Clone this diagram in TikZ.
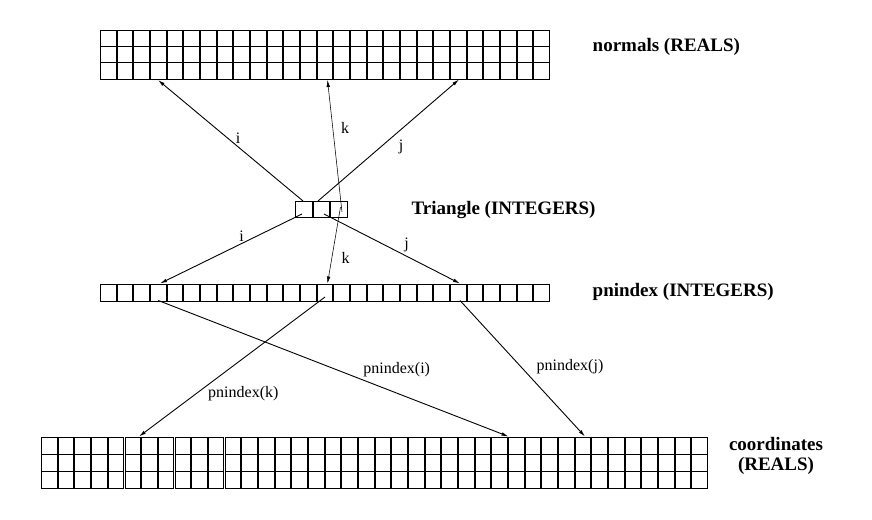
\documentclass[tikz,border=0pt]{standalone}
\usepackage{fontspec}
\setmainfont{Liberation Serif}
\usetikzlibrary{arrows.meta}
\begin{document}
\begin{tikzpicture}[x=1pt,y=-1pt,
  cell/.style={draw, line width=0.8pt, inner sep=0pt, outer sep=0pt, minimum width=15.6pt},
  arr/.style={-{Latex[length=7pt,width=3.6pt]}, line width=0.9pt},
  thinarr/.style={arr, line width=0.55pt},
  lbl/.style={font=\fontsize{16}{16}\selectfont, inner sep=0pt},
  ttl/.style={font=\fontsize{19}{19.5}\selectfont\bfseries, inner sep=0pt, align=center}]
\useasboundingbox (0,0) rectangle (872,519);
% normals array
\foreach \r in {0,1,2} \foreach \c in {0,...,26} {
  \node[cell, minimum height=16.33pt] (N-\r-\c) at ({108.33+16.667*\c},{38.17+16.33*\r}) {};
}
% triangle
\foreach \c in {0,1,2} {
  \node[cell, minimum width=16.6pt, minimum height=16.7pt] (T-\c) at ({303.8+17.57*\c},209.5) {};
}
% pnindex array
\foreach \c in {0,...,26} {
  \node[cell, minimum height=16.8pt] (P-\c) at ({108.33+16.667*\c},292.5) {};
}
% coordinates array
\foreach \r in {0,1,2} \foreach \c in {0,...,39} {
  \node[cell, minimum width=15.6pt, minimum height=17pt] (C-\r-\c) at ({49.34+16.675*\c},{445.5+17*\r}) {};
}
% titles
\node[ttl, anchor=west] (tn) at (592.5,47) {normals (REALS)};
\node[ttl, anchor=west] (tt) at (411.5,210) {Triangle (INTEGERS)};
\node[ttl, anchor=west] (tp) at (592.5,292) {pnindex (INTEGERS)};
\node[ttl] (tc) at (776,456) {coordinates\\(REALS)};
% endpoints
\coordinate (ui0) at (303,201);   \coordinate (ui1) at (158,80);
\coordinate (uj0) at (318,201);   \coordinate (uj1) at (459,79.5);
\coordinate (uk0) at (342,212);   \coordinate (uk1) at (327.5,80);
\coordinate (di0) at (302,214);   \coordinate (di1) at (160,283.5);
\coordinate (dj0) at (324,214);   \coordinate (dj1) at (460,283.5);
\coordinate (dk0) at (340.5,207); \coordinate (dk1) at (327.5,283.5);
\coordinate (pk0) at (325,297);   \coordinate (pk1) at (139,436.5);
\coordinate (pi0) at (158.3,300.5); \coordinate (pi1) at (508.5,436.5);
\coordinate (pj0) at (460,300.5); \coordinate (pj1) at (585,436.5);
\draw[arr] (ui0) -- (ui1);
\draw[arr] (uj0) -- (uj1);
\draw[thinarr] (uk0) -- (uk1);
\draw[arr] (di0) -- (di1);
\draw[arr] (dj0) -- (dj1);
\draw[thinarr] (dk0) -- (dk1);
\draw[arr] (pk0) -- (pk1);
\draw[arr] (pi0) -- (pi1);
\draw[arr] (pj0) -- (pj1);
% labels
\node[lbl] (li) at (238,138) {i};
\node[lbl] (lj) at (401,147) {j};
\node[lbl] (lk) at (345,128) {k};
\node[lbl] (li2) at (241.7,236.7) {i};
\node[lbl] (lj2) at (406.7,245) {j};
\node[lbl] (lk2) at (345.7,258.3) {k};
\node[lbl] (lpk) at (243.3,393.3) {pnindex(k)};
\node[lbl] (lpi) at (396.7,370) {pnindex(i)};
\node[lbl] (lpj) at (570,366.7) {pnindex(j)};
\end{tikzpicture}
\end{document}
